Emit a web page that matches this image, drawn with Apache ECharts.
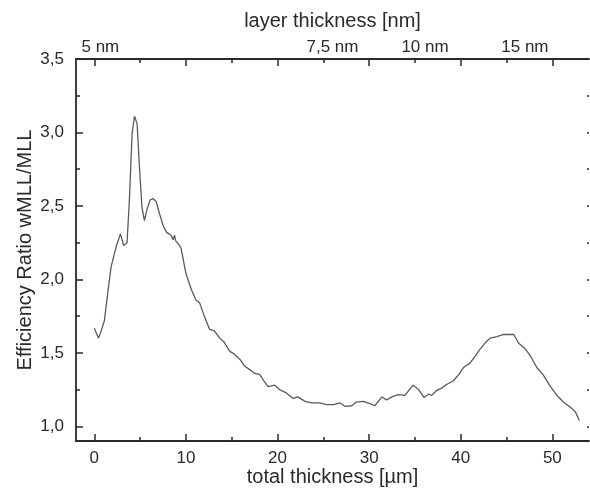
<!DOCTYPE html>
<html>
<head>
<meta charset="utf-8">
<script src="https://cdn.jsdelivr.net/npm/echarts@6/dist/echarts.min.js"></script>
<style>
  html, body { margin: 0; padding: 0; background: #fff; }
  #chart { width: 590px; height: 489px; }
</style>
</head>
<body>
<div id="chart"></div>
<script>
// total thickness [µm]
const thickness = [
  0.0, 0.25, 0.47, 0.8, 1.1, 1.45, 1.83, 2.37, 2.85, 3.2, 3.57, 3.83, 4.12, 4.38, 4.67, 4.92,
  5.2, 5.47, 5.72, 6.09, 6.38, 6.75, 7.1, 7.55, 7.9, 8.38, 8.6, 8.75, 8.9, 9.19, 9.48, 10.0,
  10.6, 11.1, 11.5, 12.03, 12.58, 13.1, 13.7, 14.2, 14.8, 15.3, 15.9, 16.4, 16.96, 17.5, 18.05,
  18.5, 18.96, 19.7, 20.2, 20.97, 21.7, 22.2, 23.0, 23.7, 24.6, 25.35, 26.1, 26.8, 27.35, 28.1,
  28.6, 29.35, 30.1, 30.6, 31.4, 31.9, 32.6, 33.2, 33.9, 34.8, 35.4, 36.0, 36.5, 36.8, 37.4,
  37.9, 38.5, 39.2, 39.75, 40.3, 41.0, 41.6, 42.05, 42.7, 43.2, 43.95, 44.7, 45.8, 46.3, 47.0,
  47.6, 48.3, 49.0, 49.8, 50.5, 51.2, 51.97, 52.5, 52.95
]
// efficiency ratio wMLL/MLL
const ratio = [
  1.667, 1.63, 1.60, 1.66, 1.72, 1.90, 2.085, 2.22, 2.31, 2.23, 2.25, 2.54, 2.99, 3.11, 3.06, 2.77,
  2.49, 2.40, 2.47, 2.54, 2.55, 2.53, 2.45, 2.36, 2.32, 2.30, 2.27, 2.30, 2.26, 2.24, 2.21, 2.04,
  1.93, 1.86, 1.84, 1.745, 1.66, 1.65, 1.60, 1.57, 1.51, 1.49, 1.455, 1.41, 1.386, 1.36, 1.354,
  1.31, 1.27, 1.28, 1.25, 1.227, 1.19, 1.20, 1.17, 1.16, 1.16, 1.148, 1.148, 1.16, 1.136, 1.14,
  1.165, 1.17, 1.154, 1.14, 1.20, 1.18, 1.204, 1.216, 1.21, 1.28, 1.25, 1.196, 1.22, 1.21, 1.245,
  1.26, 1.286, 1.31, 1.35, 1.40, 1.43, 1.48, 1.52, 1.57, 1.60, 1.61, 1.625, 1.625, 1.567, 1.53,
  1.48, 1.40, 1.35, 1.27, 1.21, 1.165, 1.13, 1.10, 1.04
]

const xMajor = [0, 10, 20, 30, 40, 50]
const xMinor = [5, 15, 25, 35, 45]
const yMajor = [1.0, 1.5, 2.0, 2.5, 3.0, 3.5]
const yMinor = [1.25, 1.75, 2.25, 2.75, 3.25]
// top axis: layer thickness labels, placed at the matching total thickness
const topLabelPos = [0.66, 26.0, 36.1, 47.0]
const topLabels = ['5 nm', '7,5 nm', '10 nm', '15 nm']

const font = 'Liberation Sans, Arial, sans-serif'
const ink = '#2a2a2a'
const X_MIN = -2, X_MAX = 54, Y_MIN = 0.9, Y_MAX = 3.5

const chart = echarts.init(document.getElementById('chart'))

// an axis that draws only ticks (inside), no line, no labels
const ticksOnly = (kind, pos, values, len) => ({
  type: 'value', position: pos,
  min: kind === 'x' ? X_MIN : Y_MIN, max: kind === 'x' ? X_MAX : Y_MAX,
  axisLine: { show: false, onZero: false },
  axisTick: { show: true, inside: true, length: len, customValues: values, lineStyle: { color: ink, width: 1.5 } },
  axisLabel: { show: false },
  splitLine: { show: false }
})

// an axis that draws its line, labels and name, no ticks
const lineAndLabels = (kind, pos, labelValues, name, nameGap, margin, formatter) => ({
  type: 'value', position: pos,
  min: kind === 'x' ? X_MIN : Y_MIN, max: kind === 'x' ? X_MAX : Y_MAX,
  name: name, nameLocation: 'middle', nameGap: nameGap, nameMoveOverlap: false,
  nameTextStyle: { fontSize: 20, color: ink, fontFamily: font },
  axisLine: { show: true, onZero: false, lineStyle: { color: ink, width: 1.8 } },
  axisTick: { show: false },
  axisLabel: {
    show: true, customValues: labelValues, margin: margin, fontSize: 17, color: ink, fontFamily: font,
    formatter: formatter
  },
  splitLine: { show: false }
})

chart.setOption({
  animation: false,
  backgroundColor: '#fff',
  grid: { left: 76, right: 1, top: 59, bottom: 48, outerBoundsMode: 'none', containLabel: false },
  xAxis: [
    lineAndLabels('x', 'bottom', xMajor, 'total thickness [µm]', 26, 9, (v) => String(v)),
    ticksOnly('x', 'bottom', xMajor, 7),
    ticksOnly('x', 'bottom', xMinor, 4),
    lineAndLabels('x', 'top', topLabelPos, 'layer thickness [nm]', 28, 3, (v) => {
      const i = topLabelPos.indexOf(v)
      return i >= 0 ? topLabels[i] : ''
    }),
    ticksOnly('x', 'top', xMajor, 7),
    ticksOnly('x', 'top', xMinor, 4)
  ],
  yAxis: [
    lineAndLabels('y', 'left', yMajor, 'Efficiency Ratio wMLL/MLL', 41, 12, (v) => v.toFixed(1).replace('.', ',')),
    ticksOnly('y', 'left', yMajor, 7),
    ticksOnly('y', 'left', yMinor, 4),
    ticksOnly('y', 'right', yMajor.concat(yMinor), 2)
  ],
  series: [{
    type: 'line',
    xAxisIndex: 0,
    yAxisIndex: 0,
    showSymbol: false,
    data: thickness.map((x, i) => [x, ratio[i]]),
    lineStyle: { color: '#5a5a5a', width: 1.3 }
  }]
})
</script>
</body>
</html>
